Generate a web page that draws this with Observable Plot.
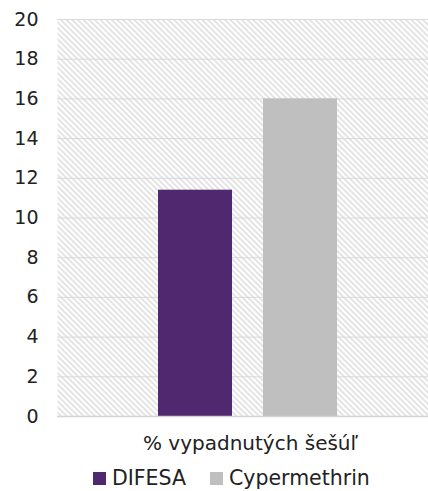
<!DOCTYPE html>
<html>
<head>
<meta charset="utf-8">
<script src="https://cdn.jsdelivr.net/npm/d3@7"></script>
<script src="https://cdn.jsdelivr.net/npm/@observablehq/plot@0.6"></script>
<style>
  body { margin: 0; background: white; font-family: "DejaVu Sans", sans-serif; color: #222; }
  #legend { display: flex; align-items: center; padding-left: 93px; padding-top: 0px; height: 24px; font-size: 20.5px; line-height: 24px; }
  .item { display: flex; align-items: center; }
  .sw { width: 13px; height: 13px; margin-right: 6px; }
</style>
</head>
<body>
<div id="chart"></div>
<div id="legend"></div>
<script>
const categories = ["DIFESA", "Cypermethrin"];
const values = [11.4, 16.0];
const colors = ["#4f2870", "#bfbfbf"];
const yTicks = [0, 2, 4, 6, 8, 10, 12, 14, 16, 18, 20];
const xLabel = "% vypadnutých šešúľ";

const data = categories.map((c, i) => ({cat: c, value: values[i]}));

const svg = Plot.plot({
  width: 428,
  height: 466,
  marginLeft: 57,
  marginRight: 0,
  marginTop: 19,
  marginBottom: 50,
  style: {fontFamily: "DejaVu Sans", fontSize: "19px", color: "#222", background: "white"},
  x: {domain: categories, range: [157, 338], paddingInner: 0.292, paddingOuter: 0, axis: null},
  y: {domain: [0, 20], label: null},
  color: {domain: categories, range: colors},
  marks: [
    Plot.frame({fill: "url(#hatch)", stroke: null}),
    Plot.gridY(yTicks, {stroke: "#d9d9d9", strokeOpacity: 1, strokeWidth: 1}),
    Plot.barY(data, {x: "cat", y: "value", fill: "cat"}),
    Plot.ruleY([0], {stroke: "#d4d4d4", strokeWidth: 1.5}),
    Plot.axisY(yTicks, {tickSize: 0, tickPadding: 19, fontSize: 19, fill: "#222", label: null}),
    Plot.text([xLabel], {frameAnchor: "bottom", lineAnchor: "middle", dy: 27, dx: 7.5, fontSize: 20, fill: "#222"})
  ]
});

const defs = d3.select(svg).insert("defs", ":first-child");
const pat = defs.append("pattern")
  .attr("id", "hatch")
  .attr("patternUnits", "userSpaceOnUse")
  .attr("width", 4)
  .attr("height", 4)
  .attr("patternTransform", "rotate(-45)");
pat.append("rect").attr("width", 4).attr("height", 4).attr("fill", "white");
pat.append("line").attr("x1", 1).attr("y1", 0).attr("x2", 1).attr("y2", 4)
  .attr("stroke", "#dedede").attr("stroke-width", 1.6);

document.getElementById("chart").appendChild(svg);

const legend = d3.select("#legend");
categories.forEach((c, i) => {
  const it = legend.append("div").attr("class", "item").style("margin-right", i === 0 ? "24px" : "0px");
  it.append("div").attr("class", "sw").style("background", colors[i]);
  it.append("span").text(c);
});
</script>
</body>
</html>
